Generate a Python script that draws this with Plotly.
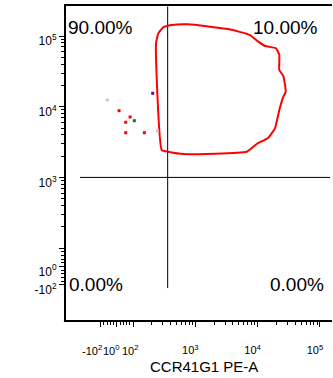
import numpy as np
import plotly.graph_objects as go

# ---- data (raw fluorescence units) ----
events_x = [-59, 14, 82, 105, 55, 55, 152, 245, 207]
events_y = [12450, 8790, 7160, 6340, 6030, 4290, 4290, 4530, 15500]
events_color = ["#c8c8c8", "#ff0000", "#ff0000", "#008000", "#ff0000",
                "#ff0000", "#ff0000", "#c8c8c8", "#800080"]

gate_x = [418, 772, 3390, 7550, 10260, 13150, 19700, 22300, 22300, 25900,
          28250, 25900, 22300, 19000, 14860, 9680, 6680, 641, 369, 289,
          234, 255, 306, 418]
gate_y = [143200, 146600, 125600, 103300, 83200, 72300, 67000, 54000, 33000,
          27200, 16300, 13900, 9000, 4950, 3650, 2970, 2310, 2140, 2310,
          2440, 78900, 109100, 132700, 143200]

quad_x = 360          # vertical quadrant divider
quad_y = 1000         # horizontal quadrant divider
quad_v_span = [-111, 262144]
quad_h_span = [-214, 262144]

quad_labels = ["90.00%", "10.00%", "0.00%", "0.00%"]

x_ticks = [-100, 1, 100, 1000, 10000, 100000]
x_ticktext = ["", "", "", "10<sup>3</sup>", "10<sup>4</sup>", "10<sup>5</sup>"]
x_crowded = [-100, 1, 100]
x_crowded_text = ["-10<sup>2</sup>", "10<sup>0</sup>", "10<sup>2</sup>"]
y_ticks = [-100, 1, 100, 1000, 10000, 100000]
y_ticktext = ["-10<sup>2</sup>", "10<sup>0</sup>", "",
              "10<sup>3</sup>", "10<sup>4</sup>", "10<sup>5</sup>"]

x_title = "CCR41G1 PE-A"

# ---- biexponential-style display transform ----
LIN = 100.0   # half-width of the linear region
W = 0.26      # display width (decades) of the linear region


def biex(v):
    v = np.asarray(v, dtype=float)
    a = np.abs(v)
    logpart = np.sign(v) * (W + np.log10(np.maximum(a, LIN) / LIN))
    return np.where(a <= LIN, v / LIN * W, logpart)


def minor_vals(linear_steps, decades):
    vals = []
    for s in linear_steps:
        vals += [s, -s]
    for d in decades:
        vals += [m * d for m in range(2, 10)]
    return biex(vals).tolist()


x_minor = minor_vals([20, 40, 60, 80], [100, 1000, 10000])
y_minor = minor_vals([20, 40, 60, 80], [100, 1000, 10000])

fig = go.Figure()

# quadrant dividers
fig.add_trace(go.Scatter(x=biex([quad_x, quad_x]), y=biex(quad_v_span),
                         mode="lines", line=dict(color="black", width=1),
                         hoverinfo="skip", showlegend=False))
fig.add_trace(go.Scatter(x=biex(quad_h_span), y=biex([quad_y, quad_y]),
                         mode="lines", line=dict(color="black", width=1),
                         hoverinfo="skip", showlegend=False))

# gate outline
fig.add_trace(go.Scatter(x=biex(gate_x), y=biex(gate_y), mode="lines",
                         line=dict(color="#ff0000", width=2, shape="spline",
                                   smoothing=0.4),
                         hoverinfo="skip", showlegend=False))

# events
fig.add_trace(go.Scatter(x=biex(events_x), y=biex(events_y), mode="markers",
                         marker=dict(symbol="square", size=3,
                                     color=events_color, line=dict(width=0)),
                         showlegend=False))

font = "Liberation Sans, Arial, sans-serif"

ann = dict(xref="paper", yref="paper", showarrow=False,
           font=dict(family=font, size=19, color="black"))
fig.add_annotation(text=quad_labels[0], x=0.005, y=0.928,
                   xanchor="left", yanchor="middle", **ann)
fig.add_annotation(text=quad_labels[1], x=0.955, y=0.928,
                   xanchor="right", yanchor="middle", **ann)
fig.add_annotation(text=quad_labels[2], x=0.007, y=0.115,
                   xanchor="left", yanchor="middle", **ann)
fig.add_annotation(text=quad_labels[3], x=0.978, y=0.115,
                   xanchor="right", yanchor="middle", **ann)

# tick labels of the compressed region near zero, packed side by side
for v, txt, anchor, dx in zip(x_crowded, x_crowded_text,
                              ["right", "center", "left"], [3, -5, -13]):
    fig.add_annotation(text=txt, x=float(biex(v)), xref="x",
                       y=-0.093, yref="paper", yanchor="middle",
                       xanchor=anchor, xshift=dx, showarrow=False,
                       font=dict(family=font, size=11, color="black"))

# axis title, centred on the full data window
fig.add_annotation(text=x_title, x=0.52, y=-0.145, xref="paper", yref="paper",
                   xanchor="center", yanchor="middle", showarrow=False,
                   font=dict(family=font, size=15, color="black"))

# open right side: the data window continues past the page edge
fig.add_shape(type="rect", xref="paper", yref="paper", layer="above",
              x0=0.9925, x1=1.0, y0=0.004, y1=0.996,
              fillcolor="white", line=dict(width=0))

# frame: left, bottom and top edges
frame = dict(type="line", xref="paper", yref="paper", layer="above",
             line=dict(color="black", width=2))
fig.add_shape(x0=0, x1=1.0, y0=1, y1=1, **frame)
fig.add_shape(x0=-0.004, x1=1.0, y0=0, y1=0, **frame)
fig.add_shape(x0=0, x1=0, y0=-0.003, y1=1.003, **frame)

fig.update_layout(
    width=333, height=378,
    margin=dict(l=65, r=1, t=5, b=57),
    paper_bgcolor="white", plot_bgcolor="white",
    font=dict(family=font, color="black", size=11),
    xaxis=dict(
        range=[-0.8315, 3.454], showgrid=False, zeroline=False,
        showline=False,
        tickmode="array", tickvals=biex(x_ticks).tolist(), ticktext=x_ticktext,
        tickangle=0, ticklabelshift=-5, ticklabelstandoff=14,
        ticks="outside", ticklen=5, tickwidth=1, tickcolor="black",
        tickfont=dict(size=11),
        minor=dict(tickmode="array", tickvals=x_minor, ticks="outside",
                   ticklen=3, tickwidth=1, tickcolor="black"),
    ),
    yaxis=dict(
        range=[-0.771, 3.699], showgrid=False, zeroline=False,
        showline=False,
        tickmode="array", tickvals=biex(y_ticks).tolist(), ticktext=y_ticktext,
        tickangle=0, ticklabelshift=5,
        ticks="outside", ticklen=5, tickwidth=1, tickcolor="black",
        tickfont=dict(size=12),
        minor=dict(tickmode="array", tickvals=y_minor, ticks="outside",
                   ticklen=3, tickwidth=1, tickcolor="black"),
    ),
)

fig.write_html("out.html")
